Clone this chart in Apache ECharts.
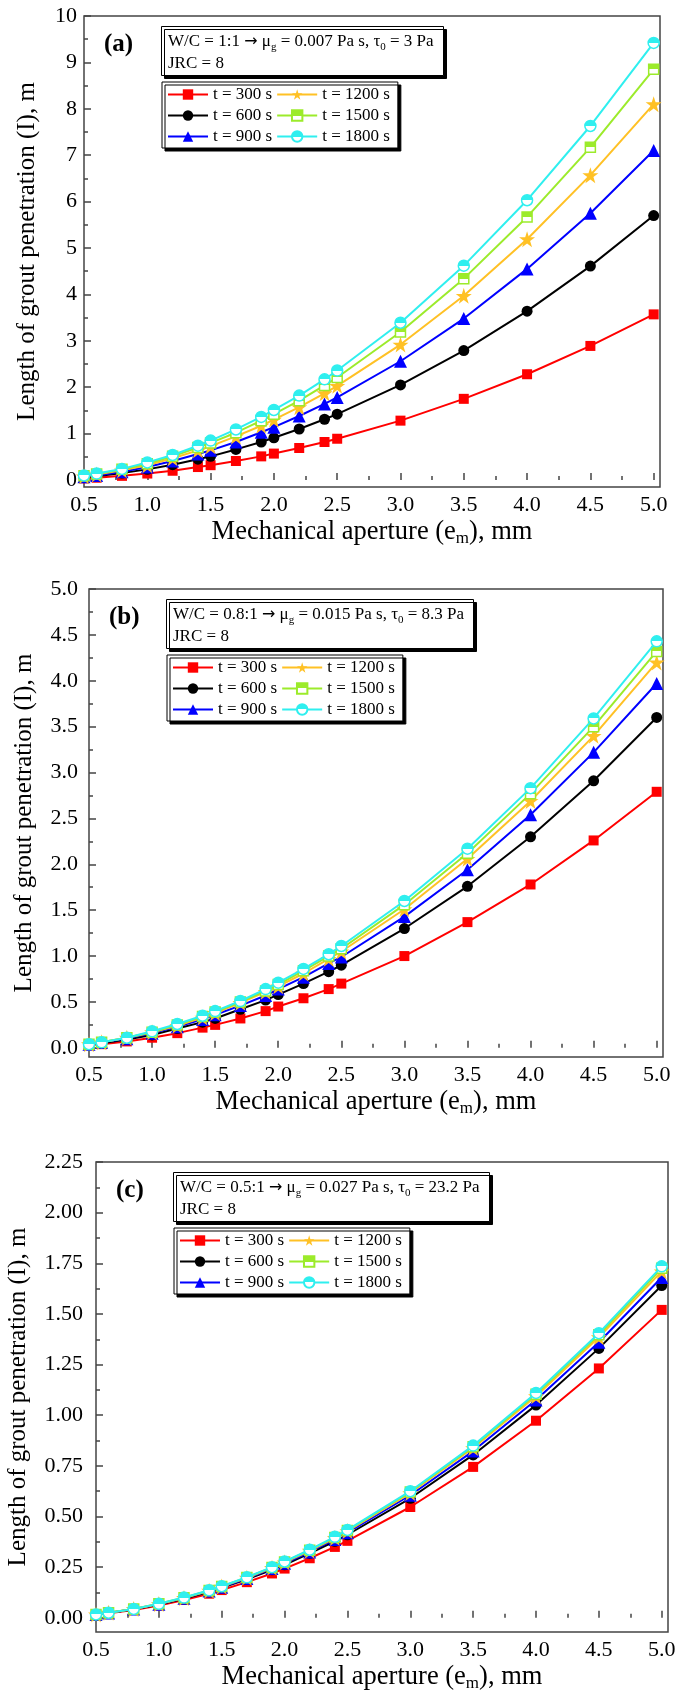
<!DOCTYPE html>
<html><head><meta charset="utf-8">
<script src="https://cdn.jsdelivr.net/npm/echarts@6/dist/echarts.min.js"></script>
<style>html,body{margin:0;padding:0;background:#fff}#c{width:690px;height:1694px}</style>
</head><body><div id="c"></div>
<script>
// ---------- DATA ----------
const xValues = [0.5,0.6,0.8,1.0,1.2,1.4,1.5,1.7,1.9,2.0,2.2,2.4,2.5,3.0,3.5,4.0,4.5,5.0];
const seriesNames = ['t = 300 s','t = 600 s','t = 900 s','t = 1200 s','t = 1500 s','t = 1800 s'];

// (a) W/C = 1:1
const a300  = [0.035,0.05,0.09,0.14,0.20,0.28,0.32,0.41,0.51,0.57,0.69,0.82,0.89,1.28,1.75,2.28,2.89,3.57];
const a600  = [0.06,0.08,0.15,0.23,0.33,0.45,0.51,0.66,0.82,0.91,1.10,1.31,1.42,2.05,2.79,3.64,4.61,5.70];
const a900  = [0.07,0.10,0.18,0.28,0.41,0.56,0.64,0.82,1.03,1.14,1.38,1.64,1.78,2.56,3.48,4.55,5.75,7.10];
const a1200 = [0.08,0.12,0.21,0.32,0.47,0.64,0.73,0.94,1.17,1.30,1.57,1.87,2.03,2.92,3.97,5.19,6.57,8.10];
const a1500 = [0.09,0.13,0.23,0.35,0.51,0.70,0.80,1.02,1.28,1.42,1.71,2.04,2.21,3.19,4.34,5.67,7.17,8.85];
const a1800 = [0.10,0.14,0.24,0.38,0.54,0.74,0.85,1.09,1.36,1.51,1.82,2.17,2.36,3.39,4.62,6.03,7.63,9.42];

// (b) W/C = 0.8:1
const b300  = [0.03,0.04,0.07,0.11,0.16,0.22,0.25,0.32,0.40,0.45,0.54,0.64,0.70,1.00,1.37,1.78,2.26,2.79];
const b600  = [0.04,0.05,0.09,0.14,0.21,0.28,0.32,0.42,0.52,0.58,0.70,0.83,0.90,1.30,1.76,2.30,2.91,3.60];
const b900  = [0.04,0.06,0.10,0.16,0.23,0.31,0.36,0.46,0.57,0.64,0.77,0.92,0.99,1.43,1.94,2.54,3.22,3.97];
const b1200 = [0.04,0.06,0.11,0.17,0.24,0.33,0.38,0.49,0.61,0.67,0.81,0.97,1.05,1.51,2.06,2.69,3.40,4.20];
const b1500 = [0.04,0.06,0.11,0.17,0.25,0.34,0.39,0.50,0.62,0.69,0.84,1.00,1.08,1.56,2.12,2.77,3.50,4.32];
const b1800 = [0.04,0.06,0.11,0.18,0.26,0.35,0.40,0.51,0.64,0.71,0.86,1.02,1.11,1.60,2.17,2.83,3.59,4.43];

// (c) W/C = 0.5:1
const c300  = [0.015,0.022,0.039,0.061,0.088,0.119,0.137,0.176,0.219,0.243,0.294,0.35,0.38,0.547,0.745,0.973,1.231,1.52];
const c600  = [0.016,0.024,0.042,0.066,0.094,0.129,0.148,0.19,0.237,0.262,0.318,0.378,0.41,0.59,0.804,1.05,1.33,1.64];
const c900  = [0.017,0.024,0.043,0.067,0.097,0.132,0.151,0.194,0.243,0.269,0.325,0.387,0.42,0.605,0.823,1.075,1.36,1.68];
const c1200 = [0.017,0.025,0.044,0.068,0.098,0.134,0.154,0.198,0.247,0.274,0.331,0.394,0.428,0.616,0.838,1.094,1.385,1.71];
const c1500 = [0.017,0.025,0.044,0.069,0.099,0.135,0.155,0.199,0.249,0.276,0.334,0.397,0.431,0.621,0.845,1.104,1.397,1.725];
const c1800 = [0.017,0.025,0.044,0.069,0.10,0.136,0.156,0.20,0.25,0.278,0.336,0.40,0.434,0.625,0.85,1.11,1.405,1.735];

// ticks
const xTicks      = [0.5,1.0,1.5,2.0,2.5,3.0,3.5,4.0,4.5,5.0];
const xMinorTicks = [0.75,1.25,1.75,2.25,2.75,3.25,3.75,4.25,4.75];
const yTicksA      = [0,1,2,3,4,5,6,7,8,9,10];
const yMinorTicksA = [0.5,1.5,2.5,3.5,4.5,5.5,6.5,7.5,8.5,9.5];
const yTicksB      = [0,0.5,1.0,1.5,2.0,2.5,3.0,3.5,4.0,4.5,5.0];
const yMinorTicksB = [0.25,0.75,1.25,1.75,2.25,2.75,3.25,3.75,4.25,4.75];
const yTicksC      = [0,0.25,0.5,0.75,1.0,1.25,1.5,1.75,2.0,2.25];
const yMinorTicksC = [0.125,0.375,0.625,0.875,1.125,1.375,1.625,1.875,2.125];

const panelLabels = ['(a)','(b)','(c)'];
const annotations = [
  ['1:1','0.007','3'],
  ['0.8:1','0.015','8.3'],
  ['0.5:1','0.027','23.2']
];
const jrc = '8';

// ---------- STYLE / LAYOUT ----------
const FONT = 'Liberation Serif';
const AX = '#444';
const starPath = 'path://M50,2 L61.2,36.5 L97.6,36.5 L68.2,57.9 L79.4,92.5 L50,71.1 L20.6,92.5 L31.8,57.9 L2.4,36.5 L38.8,36.5 Z';
function half(c){
  return {type:'linear',x:0,y:0,x2:0,y2:1,colorStops:[
    {offset:0,color:c},{offset:0.5,color:c},{offset:0.5,color:'#fff'},{offset:1,color:'#fff'}]};
}
const styles = [
  {color:'#FF0000', symbol:'rect', size:10},
  {color:'#000000', symbol:'circle', size:11},
  {color:'#0000FF', symbol:'triangle', size:13},
  {color:'#FFC125', symbol:starPath, size:16},
  {color:'#9CEB2B', symbol:'rect', size:10, half:true},
  {color:'#2FEFEF', symbol:'circle', size:11, half:true}
];

const panels = [
  {data:[a300,a600,a900,a1200,a1500,a1800], grid:{left:84,top:16,width:576,height:471},
   ymin:-0.15, ymax:10, yTicks:yTicksA, yMinor:yMinorTicksA, fmt:v=>String(Math.round(v)),
   yLabelMargin:7, yNameGap:42},
  {data:[b300,b600,b900,b1200,b1500,b1800], grid:{left:89,top:589,width:574,height:468},
   ymin:-0.1, ymax:5, yTicks:yTicksB, yMinor:yMinorTicksB, fmt:v=>v.toFixed(1),
   yLabelMargin:11, yNameGap:47},
  {data:[c300,c600,c900,c1200,c1500,c1800], grid:{left:96,top:1162,width:572,height:470},
   ymin:-0.07, ymax:2.25, yTicks:yTicksC, yMinor:yMinorTicksC, fmt:v=>v.toFixed(2),
   yLabelMargin:13, yNameGap:54}
];

const grids=[], xAxes=[], yAxes=[], series=[], titles=[], legends=[];
panels.forEach((p,i)=>{
  grids.push(Object.assign({show:true,borderColor:AX,borderWidth:1.5,backgroundColor:'transparent',
    containLabel:false, outerBoundsMode:'none'}, p.grid));
  xAxes.push({gridIndex:i,type:'value',min:0.5,max:5.05,position:'bottom',
    axisLine:{show:false},splitLine:{show:false},
    axisTick:{inside:true,length:7,lineStyle:{color:AX,width:1.5},customValues:xTicks},
    axisLabel:{customValues:xTicks,formatter:v=>v.toFixed(1),fontFamily:FONT,fontSize:22,color:'#000',margin:7},
    name:'Mechanical aperture (e{s|m}), mm',nameLocation:'middle',nameGap:25,
    nameTextStyle:{fontFamily:FONT,fontSize:26.5,lineHeight:30,color:'#000',
      rich:{s:{fontFamily:FONT,fontSize:17,lineHeight:14,verticalAlign:'bottom',color:'#000'}}}
  });
  xAxes.push({gridIndex:i,type:'value',min:0.5,max:5.05,position:'bottom',
    axisLine:{show:false},splitLine:{show:false},
    axisTick:{inside:true,length:4,lineStyle:{color:AX,width:1.5},customValues:xMinorTicks},
    axisLabel:{show:false,customValues:xMinorTicks}});
  yAxes.push({gridIndex:i,type:'value',min:p.ymin,max:p.ymax,position:'left',
    axisLine:{show:false},splitLine:{show:false},
    axisTick:{inside:true,length:7,lineStyle:{color:AX,width:1.5},customValues:p.yTicks},
    axisLabel:{customValues:p.yTicks,formatter:p.fmt,fontFamily:FONT,fontSize:22,color:'#000',margin:p.yLabelMargin},
    name:'Length of grout penetration (I), m',nameLocation:'middle',nameGap:p.yNameGap,
    nameTextStyle:{fontFamily:FONT,fontSize:25,lineHeight:30,color:'#000'}
  });
  yAxes.push({gridIndex:i,type:'value',min:p.ymin,max:p.ymax,position:'left',
    axisLine:{show:false},splitLine:{show:false},
    axisTick:{inside:true,length:4,lineStyle:{color:AX,width:1.5},customValues:p.yMinor},
    axisLabel:{show:false,customValues:p.yMinor}});

  p.data.forEach((arr,k)=>{
    const st = styles[k];
    series.push({
      type:'line', name:seriesNames[k], xAxisIndex:2*i, yAxisIndex:2*i,
      data: xValues.map((x,j)=>[x,arr[j]]),
      symbol:st.symbol, symbolSize:st.size, showSymbol:true, clip:false,
      lineStyle:{color:st.color,width:2},
      itemStyle:{color: st.half ? half(st.color) : st.color, borderColor:st.color, borderWidth: st.half?1.5:0},
      emphasis:{disabled:true}, z:2+k
    });
  });

  const g = p.grid;
  titles.push({text:panelLabels[i], left:g.left+20, top:g.top+16, padding:0,
    textStyle:{fontFamily:FONT,fontSize:25,fontWeight:'bold',lineHeight:26,color:'#000'}});
  const an = annotations[i];
  const rich = {n:{fontFamily:FONT,fontSize:17,lineHeight:22,color:'#000'},
                ar:{fontFamily:'DejaVu Sans',fontSize:16,lineHeight:22,color:'#000'},
                s:{fontFamily:FONT,fontSize:11,lineHeight:12,verticalAlign:'bottom',color:'#000'}};
  titles.push({
    text:'{n|W/C = '+an[0]+' }{ar|\u2192}{n| \u03bc}{s|g}{n| = '+an[1]+' Pa s, \u03c4}{s|0}{n| = '+an[2]+' Pa}\n{n|JRC = '+jrc+'}',
    left:g.left+77, top:g.top+10, padding:[5,10,1,7],
    borderColor:'#000', borderWidth:1, backgroundColor:'#fff',
    shadowColor:'#000', shadowOffsetX:3, shadowOffsetY:3, shadowBlur:0,
    textStyle:{fontFamily:FONT,fontSize:17,fontWeight:'normal',lineHeight:22,color:'#000',rich:rich}
  });
  legends.push({
    data:[seriesNames[0],seriesNames[3],seriesNames[1],seriesNames[4],seriesNames[2],seriesNames[5]],
    orient:'horizontal', left:g.left+78, top:g.top+66, width:250,
    itemWidth:40, itemHeight:13, itemGap:4, padding:[4,8,3,5],
    selectedMode:false,
    borderColor:'#000', borderWidth:1, backgroundColor:'#fff',
    shadowColor:'#000', shadowOffsetX:3, shadowOffsetY:3, shadowBlur:0,
    textStyle:{fontFamily:FONT,fontSize:17,lineHeight:13,color:'#000'}
  });
});

const chart = echarts.init(document.getElementById('c'), null, {renderer:'canvas'});
chart.setOption({
  animation:false,
  backgroundColor:'#fff',
  title:titles, legend:legends, grid:grids, xAxis:xAxes, yAxis:yAxes, series:series
});
</script></body></html>
